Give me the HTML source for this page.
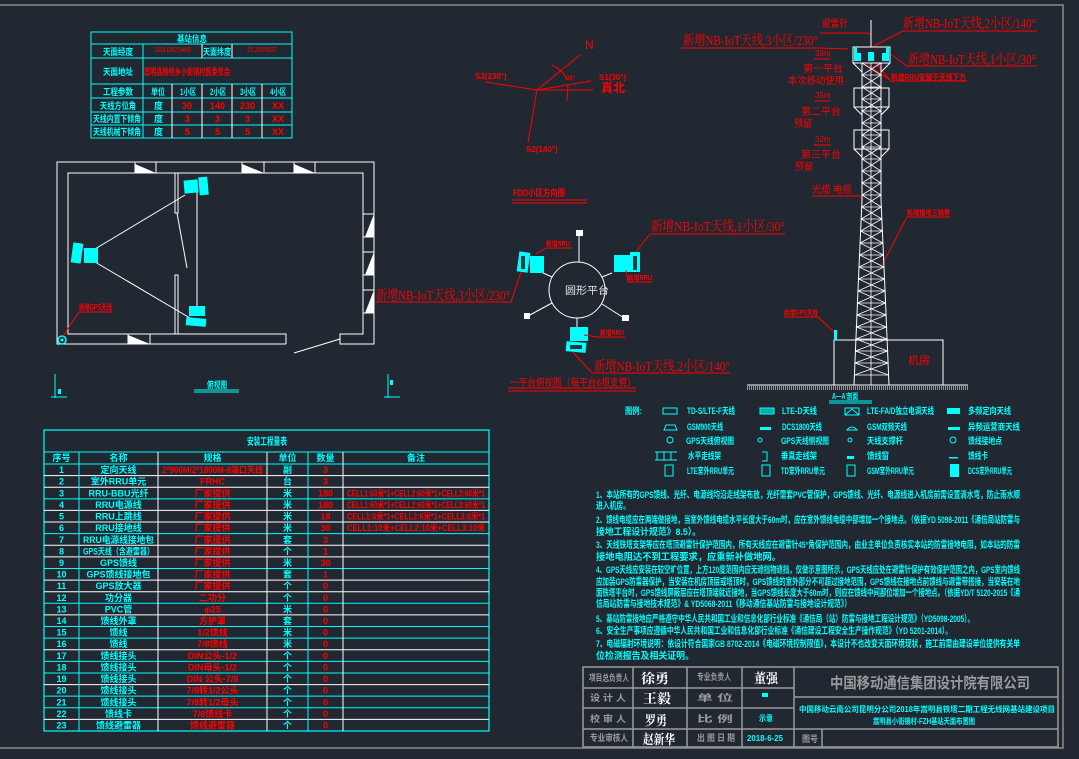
<!DOCTYPE html>
<html><head><meta charset="utf-8"><style>
html,body{margin:0;padding:0;background:#212831;}
svg{display:block;font-family:"Liberation Sans","Noto Sans CJK SC",sans-serif;}
.c{fill:#00ffff;font-weight:bold}
.r{fill:#ff0000}
.rb{fill:#ff0000;font-weight:bold}
.w{fill:#ffffff}
.g{fill:#9a9a9a;font-weight:bold}
</style></head><body>
<svg id="s" width="1079" height="759" viewBox="0 0 1079 759" xmlns="http://www.w3.org/2000/svg">
<rect width="1079" height="759" fill="#212831"/>
<!-- frame -->
<polyline points="0,5 1063,5 1063,748 0,748" fill="none" stroke="#8a8a8a" stroke-width="1.5"/>

<!-- ===== Top-left info table ===== -->
<g stroke="#00ffff" stroke-width="1" fill="none">
<rect x="91" y="32" width="201" height="106"/>
<line x1="91" y1="44" x2="292" y2="44"/><line x1="91" y1="58" x2="292" y2="58"/>
<line x1="91" y1="84" x2="292" y2="84"/><line x1="91" y1="98" x2="292" y2="98"/>
<line x1="91" y1="112" x2="292" y2="112"/><line x1="91" y1="125" x2="292" y2="125"/>
<line x1="143" y1="44" x2="143" y2="138"/>
</g>
<g stroke="#ffffff" stroke-width="1">
<line x1="202" y1="44" x2="202" y2="58"/><line x1="232" y1="44" x2="232" y2="58"/>
<line x1="172" y1="84" x2="172" y2="138"/><line x1="202" y1="84" x2="202" y2="138"/>
<line x1="232" y1="84" x2="232" y2="138"/><line x1="262" y1="84" x2="262" y2="138"/>
</g>
<g font-size="9">
<text x="177" y="42" class="c" textLength="30" lengthAdjust="spacingAndGlyphs">基站信息</text>
<text x="103" y="55" class="c" textLength="30" lengthAdjust="spacingAndGlyphs">天面经度</text>
<text x="155" y="52" class="r" textLength="36" lengthAdjust="spacingAndGlyphs" font-size="7">103.0925465</text>
<text x="203" y="55" class="c" textLength="28" lengthAdjust="spacingAndGlyphs">天面纬度</text>
<text x="247" y="52" class="r" textLength="30" lengthAdjust="spacingAndGlyphs" font-size="7">25.2905537</text>
<text x="103" y="75" class="c" textLength="30" lengthAdjust="spacingAndGlyphs">天面地址</text>
<text x="144" y="75" class="rb" textLength="86" lengthAdjust="spacingAndGlyphs">嵩明县杨桥乡小街镇村民委员会</text>
<text x="103" y="95" class="c" textLength="30" lengthAdjust="spacingAndGlyphs">工程参数</text>
<text x="151" y="95" class="c" textLength="14" lengthAdjust="spacingAndGlyphs">单位</text>
<text x="180" y="95" class="c" textLength="16" lengthAdjust="spacingAndGlyphs">1小区</text>
<text x="210" y="95" class="c" textLength="16" lengthAdjust="spacingAndGlyphs">2小区</text>
<text x="240" y="95" class="c" textLength="16" lengthAdjust="spacingAndGlyphs">3小区</text>
<text x="270" y="95" class="c" textLength="16" lengthAdjust="spacingAndGlyphs">4小区</text>
<text x="100" y="109" class="c" textLength="36" lengthAdjust="spacingAndGlyphs">天线方位角</text>
<text x="93" y="122" class="c" textLength="48" lengthAdjust="spacingAndGlyphs">天线内置下倾角</text>
<text x="93" y="135" class="c" textLength="48" lengthAdjust="spacingAndGlyphs">天线机械下倾角</text>
<text x="154" y="109" class="c">度</text><text x="154" y="122" class="c">度</text><text x="154" y="135" class="c">度</text>
<text x="182" y="109" class="rb">30</text><text x="210" y="109" class="rb">140</text><text x="240" y="109" class="rb">230</text><text x="272" y="109" class="rb">XX</text>
<text x="185" y="122" class="rb">3</text><text x="215" y="122" class="rb">3</text><text x="245" y="122" class="rb">3</text><text x="272" y="122" class="rb">XX</text>
<text x="185" y="135" class="rb">5</text><text x="215" y="135" class="rb">5</text><text x="245" y="135" class="rb">5</text><text x="272" y="135" class="rb">XX</text>
</g>

<!-- ===== Floor plan ===== -->
<g stroke="#ffffff" stroke-width="1" fill="none">
<polyline points="286,344 57,344 57,162 374,162 374,344 340,344 340,334 363,334 363,173 68,173 68,334 286,334 286,344"/>
<line x1="135" y1="162" x2="135" y2="173"/><line x1="156" y1="162" x2="156" y2="173"/>
<line x1="242" y1="162" x2="242" y2="173"/><line x1="264" y1="162" x2="264" y2="173"/>
<line x1="294" y1="162" x2="294" y2="173"/><line x1="315" y1="162" x2="315" y2="173"/>
<line x1="128" y1="334" x2="128" y2="344"/><line x1="150" y1="334" x2="150" y2="344"/>
<line x1="363" y1="214" x2="374" y2="214"/><line x1="363" y1="237" x2="374" y2="237"/>
<line x1="363" y1="252" x2="374" y2="252"/><line x1="363" y1="275" x2="374" y2="275"/>
<line x1="363" y1="290" x2="374" y2="290"/><line x1="363" y1="313" x2="374" y2="313"/>
<rect x="175" y="173" width="3" height="40"/><rect x="175" y="275" width="3" height="59"/>
<line x1="197" y1="183" x2="197" y2="310"/>
<line x1="177" y1="213" x2="187" y2="268"/>
<line x1="294" y1="353" x2="340" y2="339"/>
<line x1="95" y1="249" x2="185" y2="195"/><line x1="95" y1="262" x2="190" y2="318"/>
</g>
<g fill="#ffffff">
<polygon points="135,164 156,173 135,173"/><polygon points="242,164 264,173 242,173"/><polygon points="294,164 315,173 294,173"/>
<polygon points="128,335 150,344 128,344"/>
<polygon points="374,214 365,237 374,237"/><polygon points="374,252 365,275 374,275"/><polygon points="374,290 365,313 374,313"/>
</g>
<g fill="#00ffff">
<rect x="184" y="180" width="14" height="13" transform="rotate(-5 191 186)"/><rect x="199" y="177" width="9" height="18" transform="rotate(-5 203 186)"/>
<rect x="72" y="243" width="10" height="20" transform="rotate(8 77 253)"/><rect x="84" y="248" width="14" height="15"/>
<rect x="189" y="306" width="16" height="10"/><rect x="186" y="318" width="20" height="8" transform="rotate(5 196 322)"/>
<circle cx="62" cy="340" r="4" fill="none" stroke="#00ffff" stroke-width="1.5"/><circle cx="62" cy="340" r="1.5"/>
</g>
<line x1="63" y1="336" x2="79" y2="312" stroke="#ff0000"/><line x1="79" y1="312" x2="113" y2="312" stroke="#ff0000"/>
<text x="79" y="310" font-size="8" class="rb" textLength="33" lengthAdjust="spacingAndGlyphs">新增GPS天线</text>
<text x="207" y="388" font-size="9" class="c" textLength="20" lengthAdjust="spacingAndGlyphs">俯视图</text>
<line x1="194" y1="390" x2="239" y2="390" stroke="#00ffff"/><line x1="194" y1="392" x2="239" y2="392" stroke="#00ffff"/>
<g stroke="#00ffff"><line x1="55" y1="374" x2="55" y2="398"/><line x1="51" y1="397" x2="67" y2="397"/><line x1="388" y1="374" x2="388" y2="398"/><line x1="384" y1="397" x2="400" y2="397"/></g>
<rect x="58" y="389" width="3" height="5" fill="#00ffff"/><rect x="390" y="380" width="3" height="5" fill="#00ffff"/>

<!-- ===== Compass ===== -->
<g stroke="#ff0000" stroke-width="1" fill="none">
<line x1="537" y1="90" x2="580" y2="55"/>
<line x1="537" y1="90" x2="485" y2="82"/>
<line x1="537" y1="90" x2="591" y2="81"/>
<line x1="537" y1="90" x2="593" y2="90"/>
<line x1="537" y1="90" x2="528" y2="143"/>
<path d="M552,65 Q565,72 567,80"/>
<line x1="568" y1="85" x2="567" y2="101"/>
</g>
<text x="585" y="49" font-size="12" class="r">N</text>
<text x="475" y="79" font-size="8" class="rb">S3(230°)</text>
<text x="599" y="80" font-size="8" class="rb">S1(30°)</text>
<text x="601" y="92" font-size="12" class="rb">真北</text>
<text x="526" y="152" font-size="8" class="rb">S2(140°)</text>
<text x="566" y="80" font-size="6" class="rb">30°</text>

<!-- ===== Platform top view ===== -->
<text x="513" y="196" font-size="9" class="rb" textLength="52" lengthAdjust="spacingAndGlyphs">FDD小区方向图</text>
<line x1="512" y1="200" x2="587" y2="200" stroke="#ff0000"/><line x1="512" y1="203" x2="587" y2="203" stroke="#ff0000"/>
<g stroke="#ffffff" stroke-width="1" fill="none">
<circle cx="577" cy="290" r="28"/>
<line x1="579" y1="262" x2="579" y2="234"/>
<line x1="552" y1="303" x2="528" y2="316"/>
<line x1="602" y1="304" x2="624" y2="318"/>
<line x1="577" y1="318" x2="577" y2="330"/>
<line x1="552" y1="277" x2="541" y2="272"/>
<line x1="602" y1="277" x2="612" y2="273"/>
</g>
<g fill="#ffffff"><rect x="576" y="230" width="7" height="6"/><rect x="524" y="313" width="6" height="6"/><rect x="622" y="315" width="7" height="6"/></g>
<text x="565" y="294" font-size="10" fill="#e6e6e6" textLength="44" lengthAdjust="spacingAndGlyphs">圆形平台</text>
<g fill="#00ffff">
<rect x="518" y="252" width="11" height="20" transform="rotate(8 523 262)"/><rect x="530" y="256" width="14" height="17"/>
<rect x="614" y="255" width="16" height="17"/><rect x="630" y="252" width="10" height="20"/>
<rect x="570" y="327" width="18" height="14"/><rect x="566" y="342" width="20" height="10" transform="rotate(5 576 347)"/>
</g>
<g fill="#1e3a40"><rect x="521" y="256" width="4" height="13"/><rect x="633" y="256" width="4" height="14"/><rect x="570" y="345" width="12" height="4"/></g>
<g stroke="#ff0000" stroke-width="1" fill="none">
<polyline points="536,254 546,248 572,248"/>
<polyline points="626,270 628,282 652,282"/>
<polyline points="584,335 598,337 625,337"/>
<polyline points="376,302 511,302 521,272"/>
<polyline points="650,234 785,234"/><line x1="650" y1="234" x2="636" y2="252"/>
<polyline points="730,373 592,373 573,352"/>
<line x1="508" y1="388" x2="636" y2="388"/><line x1="508" y1="391" x2="636" y2="391"/>
</g>
<g class="rb" font-size="7">
<text x="546" y="246" textLength="24" lengthAdjust="spacingAndGlyphs">新增RRU</text>
<text x="628" y="280" textLength="24" lengthAdjust="spacingAndGlyphs">新增RRU</text>
<text x="600" y="335" textLength="24" lengthAdjust="spacingAndGlyphs">新增RRU</text>
</g>
<g class="r" font-family="Liberation Serif,'Noto Serif CJK SC',serif" font-size="14">
<text x="651" y="231" textLength="134" lengthAdjust="spacingAndGlyphs">新增NB-IoT天线,1小区/30°</text>
<text x="376" y="300" textLength="134" lengthAdjust="spacingAndGlyphs">新增NB-IoT天线,3小区/230°</text>
<text x="594" y="371" textLength="136" lengthAdjust="spacingAndGlyphs">新增NB-IoT天线,2小区/140°</text>
<text x="903" y="28" textLength="133" lengthAdjust="spacingAndGlyphs">新增NB-IoT天线,2小区/140°</text>
<text x="683" y="45" textLength="135" lengthAdjust="spacingAndGlyphs">新增NB-IoT天线,3小区/230°</text>
<text x="908" y="64" textLength="128" lengthAdjust="spacingAndGlyphs">新增NB-IoT天线,1小区/30°</text>
</g>
<text x="510" y="386" font-size="10" class="r" textLength="126" lengthAdjust="spacingAndGlyphs">一平台俯视图（每平台6根支臂）</text>

<!-- ===== Tower ===== -->
<g stroke="#ff0000" stroke-width="1" fill="none">
<line x1="903" y1="31" x2="1037" y2="31"/><line x1="903" y1="31" x2="872" y2="47"/>
<polyline points="681,48 819,48 848,49"/>
<polyline points="1037,66 907,66 892,55"/>
<polyline points="820,33 868,33 871,35"/>
<line x1="890" y1="81" x2="967" y2="81"/><line x1="865" y1="63" x2="890" y2="80"/><line x1="875" y1="62" x2="890" y2="80"/>
<line x1="812" y1="196" x2="860" y2="196"/><line x1="860" y1="196" x2="863" y2="200"/>
<line x1="907" y1="217" x2="950" y2="217"/><line x1="907" y1="217" x2="882" y2="265"/>
<line x1="784" y1="317" x2="818" y2="317"/><line x1="818" y1="317" x2="836" y2="334"/>
<line x1="814" y1="59" x2="831" y2="59"/><line x1="814" y1="101" x2="831" y2="101"/><line x1="814" y1="145" x2="831" y2="145"/>
</g>
<g class="r" font-size="10">
<text x="822" y="27" textLength="26" lengthAdjust="spacingAndGlyphs">避雷针</text>
<text x="815" y="56" font-size="8">38m</text>
<text x="803" y="72" textLength="40" lengthAdjust="spacingAndGlyphs">第一平台</text>
<text x="788" y="84" textLength="56" lengthAdjust="spacingAndGlyphs">本次移动使用</text>
<text x="815" y="98" font-size="8">35m</text>
<text x="801" y="115" textLength="40" lengthAdjust="spacingAndGlyphs">第二平台</text>
<text x="794" y="127" textLength="18" lengthAdjust="spacingAndGlyphs">预留</text>
<text x="815" y="142" font-size="8">32m</text>
<text x="801" y="158" textLength="40" lengthAdjust="spacingAndGlyphs">第三平台</text>
<text x="795" y="170" textLength="18" lengthAdjust="spacingAndGlyphs">预留</text>
<text x="812" y="193" textLength="40" lengthAdjust="spacingAndGlyphs">光缆 电缆</text>
<text x="908" y="364" font-size="11">机房</text>
</g>
<text x="891" y="80" font-size="8" class="rb" textLength="75" lengthAdjust="spacingAndGlyphs">新增RRU安装于天线下方</text>
<text x="907" y="215" font-size="7" class="rb" textLength="43" lengthAdjust="spacingAndGlyphs">新增接地三销带</text>
<text x="784" y="315" font-size="7" class="rb" textLength="34" lengthAdjust="spacingAndGlyphs">新增GPS天线</text>
<g stroke="#ffffff" stroke-width="1" fill="none">
<line x1="871" y1="20" x2="871" y2="47"/>
<rect x="853" y="47" width="37" height="16"/>
<line x1="853" y1="63" x2="862" y2="72"/><line x1="890" y1="63" x2="881" y2="72"/>
<rect x="854" y="88" width="35" height="19"/><rect x="854" y="130" width="35" height="19"/>
<line x1="854" y1="107" x2="862" y2="115"/><line x1="889" y1="107" x2="881" y2="115"/>
<line x1="854" y1="149" x2="862" y2="157"/><line x1="889" y1="149" x2="881" y2="157"/>
<polyline points="862,63 862,200 858,290 854,385"/>
<polyline points="881,63 881,200 885,290 889,385"/>
<rect x="834" y="340" width="109" height="45"/>
<line x1="747" y1="385" x2="968" y2="385"/>
<line x1="747" y1="387" x2="968" y2="387" stroke-dasharray="1 1"/>
<line x1="747" y1="389" x2="968" y2="389" stroke-dasharray="1 1"/>
</g>
<g id="brace" stroke="#ffffff" stroke-width="0.8" fill="none"></g>
<g fill="#00ffff">
<rect x="854" y="47" width="3" height="14"/><rect x="886" y="47" width="3" height="14"/>
<rect x="856" y="53" width="5" height="8"/><rect x="868" y="52" width="6" height="9"/><rect x="882" y="53" width="5" height="8"/>
<rect x="834" y="330" width="3" height="10"/>
</g>
<text x="832" y="399" font-size="8" class="c" textLength="26" lengthAdjust="spacingAndGlyphs">A—A'剖面</text>
<line x1="829" y1="401" x2="872" y2="401" stroke="#00ffff"/><line x1="829" y1="403" x2="872" y2="403" stroke="#00ffff"/>

<!-- ===== Legend ===== -->
<g class="c" font-size="9">
<text x="625" y="414" textLength="17" lengthAdjust="spacingAndGlyphs">图例:</text>
<text x="687" y="414" textLength="48" lengthAdjust="spacingAndGlyphs">TD-S/LTE-F天线</text>
<text x="782" y="414" textLength="35" lengthAdjust="spacingAndGlyphs">LTE-D天线</text>
<text x="867" y="414" textLength="67" lengthAdjust="spacingAndGlyphs">LTE-FA/D独立电调天线</text>
<text x="968" y="414" textLength="43" lengthAdjust="spacingAndGlyphs">多频定向天线</text>
<text x="687" y="430" textLength="36" lengthAdjust="spacingAndGlyphs">GSM900天线</text>
<text x="782" y="430" textLength="40" lengthAdjust="spacingAndGlyphs">DCS1800天线</text>
<text x="867" y="430" textLength="40" lengthAdjust="spacingAndGlyphs">GSM双频天线</text>
<text x="968" y="430" textLength="52" lengthAdjust="spacingAndGlyphs">异频运营商天线</text>
<text x="686" y="444" textLength="48" lengthAdjust="spacingAndGlyphs">GPS天线俯视图</text>
<text x="781" y="444" textLength="48" lengthAdjust="spacingAndGlyphs">GPS天线侧视图</text>
<text x="867" y="444" textLength="36" lengthAdjust="spacingAndGlyphs">天线支撑杆</text>
<text x="968" y="444" textLength="34" lengthAdjust="spacingAndGlyphs">馈线接地点</text>
<text x="688" y="459" textLength="33" lengthAdjust="spacingAndGlyphs">水平走线架</text>
<text x="781" y="459" textLength="36" lengthAdjust="spacingAndGlyphs">垂直走线架</text>
<text x="867" y="459" textLength="22" lengthAdjust="spacingAndGlyphs">馈线窗</text>
<text x="968" y="459" textLength="20" lengthAdjust="spacingAndGlyphs">馈线卡</text>
<text x="687" y="474" textLength="47" lengthAdjust="spacingAndGlyphs">LTE室外RRU单元</text>
<text x="781" y="474" textLength="44" lengthAdjust="spacingAndGlyphs">TD室外RRU单元</text>
<text x="867" y="474" textLength="47" lengthAdjust="spacingAndGlyphs">GSM室外RRU单元</text>
<text x="968" y="474" textLength="44" lengthAdjust="spacingAndGlyphs">DCS室外RRU单元</text>
</g>
<g stroke="#00ffff" fill="none" stroke-width="1">
<rect x="663" y="408" width="14" height="6"/>
<rect x="760" y="408" width="14" height="6" fill="#00aaaa"/>
<rect x="845" y="408" width="14" height="7"/><polyline points="845,415 852,409 859,415"/>
<path d="M664,430 L666,425 L675,425 L677,430 Z"/>
<path d="M847,430 Q852,424 857,430 Z"/>
<circle cx="670" cy="440" r="3"/><circle cx="760" cy="440" r="2"/><circle cx="850" cy="440" r="2"/><circle cx="953" cy="440" r="3"/>
<polyline points="655,452 677,452"/><line x1="657" y1="452" x2="657" y2="460"/><line x1="664" y1="452" x2="664" y2="460"/><line x1="671" y1="452" x2="671" y2="460"/><line x1="655" y1="460" x2="677" y2="460"/>
<polyline points="762,452 767,452 767,461 762,461"/>
<rect x="665" y="465" width="8" height="11"/><rect x="762" y="465" width="8" height="11"/><rect x="847" y="465" width="8" height="11"/>
</g>
<g fill="#00ffff">
<rect x="947" y="408" width="13" height="6"/><rect x="760" y="427" width="11" height="3"/><rect x="948" y="427" width="12" height="3"/>
<rect x="847" y="456" width="7" height="3"/><rect x="949" y="457" width="9" height="1.5"/><rect x="950" y="464" width="9" height="13"/>
</g>

<!-- ===== Notes ===== -->
<g class="c" font-size="9.5">
<text x="596" y="498" textLength="424" lengthAdjust="spacingAndGlyphs">1、本站所有的GPS馈线、光纤、电源线均沿走线架布放，光纤需套PVC管保护，GPS馈线、光纤、电源线进入机房前需设置滴水弯，防止雨水顺</text>
<text x="596" y="509" textLength="34" lengthAdjust="spacingAndGlyphs">进入机房。</text>
<text x="596" y="523" textLength="424" lengthAdjust="spacingAndGlyphs">2、馈线电缆应在两端做接地，当室外馈线电缆水平长度大于60m时，应在室外馈线电缆中部增加一个接地点。（依据YD 5098-2011《通信局站防雷与</text>
<text x="596" y="535" textLength="105" lengthAdjust="spacingAndGlyphs">接地工程设计规范》8.5）。</text>
<text x="596" y="548" textLength="424" lengthAdjust="spacingAndGlyphs">3、天线铁塔支架等应在塔顶避雷针保护范围内，所有天线应在避雷针45°角保护范围内，由业主单位负责核实本站的防雷接地电阻，如本站的防雷</text>
<text x="596" y="560" textLength="185" lengthAdjust="spacingAndGlyphs">接地电阻达不到工程要求，应重新补做地网。</text>
<text x="596" y="573" textLength="424" lengthAdjust="spacingAndGlyphs">4、GPS天线应安装在较空旷位置，上方120度范围内应无遮挡物遮挡，仅做示意图所示，GPS天线应处在避雷针保护有效保护范围之内，GPS室内馈线</text>
<text x="596" y="585" textLength="424" lengthAdjust="spacingAndGlyphs">应加装GPS防雷器保护，当安装在机房顶层或塔顶时，GPS馈线的室外部分不可超过接地范围，GPS馈线在接地点前馈线与避雷带搭接，当安装在地</text>
<text x="596" y="596" textLength="424" lengthAdjust="spacingAndGlyphs">面铁塔平台时，GPS馈线屏蔽层应在塔顶端就近接地，当GPS馈线长度大于60m时，则应在馈线中间部位增加一个接地点。（依据YD/T 5120-2015《通</text>
<text x="596" y="607" textLength="255" lengthAdjust="spacingAndGlyphs">信局站防雷与接地技术规范》&amp; YD5068-2011《移动通信基站防雷与接地设计规范》）</text>
<text x="596" y="622" textLength="378" lengthAdjust="spacingAndGlyphs">5、基站防雷接地应严格遵守中华人民共和国工业和信息化部行业标准《通信局（站）防雷与接地工程设计规范》（YD5098-2005）。</text>
<text x="596" y="634" textLength="356" lengthAdjust="spacingAndGlyphs">6、安全生产事项应遵循中华人民共和国工业和信息化部行业标准《通信建设工程安全生产操作规范》（YD 5201-2014）。</text>
<text x="596" y="647" textLength="424" lengthAdjust="spacingAndGlyphs">7、电磁辐射环境说明：依设计符合国家GB 8702-2014《电磁环境控制限值》，本设计不也改变天面环境现状，施工前需由建设单位提供有关单</text>
<text x="596" y="659" textLength="98" lengthAdjust="spacingAndGlyphs">位检测报告及相关证明。</text>
</g>

<!-- ===== Title block ===== -->
<g stroke="#9a9a9a" stroke-width="1.5" fill="none">
<rect x="583" y="667" width="475" height="80"/>
<line x1="583" y1="688" x2="794" y2="688"/><line x1="583" y1="708" x2="794" y2="708"/><line x1="583" y1="729" x2="1058" y2="729"/>
<line x1="794" y1="697" x2="1058" y2="697"/>
<line x1="633" y1="667" x2="633" y2="747"/><line x1="687" y1="667" x2="687" y2="747"/>
<line x1="742" y1="667" x2="742" y2="747"/><line x1="794" y1="667" x2="794" y2="747"/>
<line x1="822" y1="729" x2="822" y2="747"/>
</g>
<g class="g" font-size="9">
<text x="589" y="681" textLength="40" lengthAdjust="spacingAndGlyphs">项目总负责人</text>
<text x="697" y="680" textLength="34" lengthAdjust="spacingAndGlyphs">专业负责人</text>
<text x="590" y="701" textLength="36" lengthAdjust="spacingAndGlyphs">设 计 人</text>
<text x="697" y="701" textLength="36" lengthAdjust="spacingAndGlyphs">单    位</text>
<text x="590" y="722" textLength="36" lengthAdjust="spacingAndGlyphs">校 审 人</text>
<text x="697" y="722" textLength="36" lengthAdjust="spacingAndGlyphs">比    例</text>
<text x="590" y="741" textLength="38" lengthAdjust="spacingAndGlyphs">专业审核人</text>
<text x="697" y="741" textLength="38" lengthAdjust="spacingAndGlyphs">出 图 日 期</text>
<text x="802" y="742" textLength="16" lengthAdjust="spacingAndGlyphs">图号</text>
<text x="830" y="688" font-size="15" textLength="200" lengthAdjust="spacingAndGlyphs">中国移动通信集团设计院有限公司</text>
</g>
<g class="w" font-family="'Liberation Serif','Noto Serif CJK SC',serif" font-weight="bold" font-size="13">
<text x="641" y="683" textLength="28" lengthAdjust="spacingAndGlyphs">徐勇</text>
<text x="754" y="683" textLength="24" lengthAdjust="spacingAndGlyphs">董强</text>
<text x="643" y="703" textLength="28" lengthAdjust="spacingAndGlyphs">王毅</text>
<text x="645" y="725" textLength="22" lengthAdjust="spacingAndGlyphs">罗勇</text>
<text x="643" y="744" textLength="32" lengthAdjust="spacingAndGlyphs">赵新华</text>
</g>
<g class="c" font-size="8">
<rect x="762" y="693" width="6" height="4" fill="#00ffff"/>
<text x="759" y="721" textLength="14" lengthAdjust="spacingAndGlyphs">示意</text>
<text x="747" y="741" textLength="36" lengthAdjust="spacingAndGlyphs">2018-6-25</text>
<text x="799" y="712" textLength="256" lengthAdjust="spacingAndGlyphs">中国移动云南公司昆明分公司2018年嵩明县铁塔二期工程无线网基站建设项目</text>
<text x="873" y="724" textLength="102" lengthAdjust="spacingAndGlyphs">嵩明县小街镇村-FZH基站天面布置图</text>
</g>

<!-- ===== Bottom-left materials table ===== -->
<g id="tbl"></g>
</svg>
<script>
(function(){
var NS="http://www.w3.org/2000/svg";
function el(p,t,a,txt){var e=document.createElementNS(NS,t);for(var k in a)e.setAttribute(k,a[k]);if(txt!=null)e.textContent=txt;p.appendChild(e);return e;}
// tower bracing
var b=document.getElementById('brace');
function L(y){return y<=200?862:(y<=290?862-4*(y-200)/90:858-4*(y-290)/95);}
function R(y){return y<=200?881:(y<=290?881+4*(y-200)/90:885+4*(y-290)/95);}
var pts1=[],pts2=[],i=0;
for(var y=63;y<=385;y+=12){
 el(b,'line',{x1:L(y),y1:y,x2:R(y),y2:y});
 pts1.push((i%2?R(y):L(y))+','+y);pts2.push((i%2?L(y):R(y))+','+y);i++;
}
el(b,'polyline',{points:pts1.join(' ')});el(b,'polyline',{points:pts2.join(' ')});
el(b,'line',{x1:871,y1:63,x2:871,y2:385});
// materials table
var g=document.getElementById('tbl');
var cols=[44,79,158,267,308,343,489];
var top=430,hdr=452,r0=464,rh=(731-464)/23;
el(g,'rect',{x:44,y:430,width:445,height:301,fill:'none',stroke:'#00ffff','stroke-width':1.2});
el(g,'line',{x1:44,y1:452,x2:489,y2:452,stroke:'#00ffff'});
for(var k=0;k<=23;k++){var yy=r0+k*rh;el(g,'line',{x1:44,y1:yy,x2:489,y2:yy,stroke:(k%3==1||k%3==2&&k<12)?'#ffffff':'#00ffff'});}
for(var c=1;c<6;c++)el(g,'line',{x1:cols[c],y1:452,x2:cols[c],y2:731,stroke:(c==1||c==4)?'#00ffff':'#ffffff'});
el(g,'text',{x:247,y:445,'font-size':10,class:'c',textLength:40,lengthAdjust:'spacingAndGlyphs'},'安装工程量表');
var H=['序号','名称','规格','单位','数量','备注'];
for(var c=0;c<6;c++){var cx=(cols[c]+cols[c+1])/2;el(g,'text',{x:cx,y:461,'font-size':9,class:'c','text-anchor':'middle'},H[c]);}
var D=[['定向天线','2*900M/2*1800M-8端口天线','副','3',''],['室外RRU单元','FRHC','台','3',''],['RRU-BBU光纤','厂家提供','米','180','CELL1:60米*1+CELL2:60米*1+CELL3:60米*1'],['RRU电源线','厂家提供','米','180','CELL1:60米*1+CELL2:60米*1+CELL3:60米*1'],['RRU上跳线','厂家提供','米','18','CELL1:6米*1+CELL2:6米*1+CELL3:6米*1'],['RRU接地线','厂家提供','米','30','CELL1:10米+CELL2:10米+CELL3:10米'],['RRU电源线接地包','厂家提供','套','3',''],['GPS天线（含避雷器）','厂家提供','个','1',''],['GPS馈线','厂家提供','米','30',''],['GPS馈线接地包','厂家提供','套','1',''],['GPS放大器','厂家提供','个','0',''],['功分器','二功分','个','0',''],['PVC管','φ25','米','0',''],['馈线外罩','方护罩','套','0',''],['馈线','1/2馈线','米','0',''],['馈线','7/8馈线','米','0',''],['馈线接头','DIN公头-1/2','个','0',''],['馈线接头','DIN母头-1/2','个','0',''],['馈线接头','DIN 公头-7/8','个','0',''],['馈线接头','7/8转1/2公头','个','0',''],['馈线接头','7/8转1/2母头','个','0',''],['馈线卡','7/8馈线卡','个','0',''],['馈线避雷器','馈线避雷器','个','0','']];
for(var k=0;k<23;k++){var yy=r0+k*rh+rh-2.5;var d=D[k];
 el(g,'text',{x:(cols[0]+cols[1])/2,y:yy,'font-size':9,class:'c','text-anchor':'middle'},String(k+1));
 var cl=['c','rb','c','rb','rb'];
 for(var c=0;c<5;c++){if(!d[c])continue;var w=cols[c+2]-cols[c+1];var tx=el(g,'text',{x:(cols[c+1]+cols[c+2])/2,y:yy,'font-size':9,class:cl[c],'text-anchor':'middle'},d[c]);
  try{var bw=tx.getComputedTextLength();if(bw>w-6){tx.setAttribute('textLength',w-8);tx.setAttribute('lengthAdjust','spacingAndGlyphs');}}catch(e){}}
}
})();
</script>
</body></html>
